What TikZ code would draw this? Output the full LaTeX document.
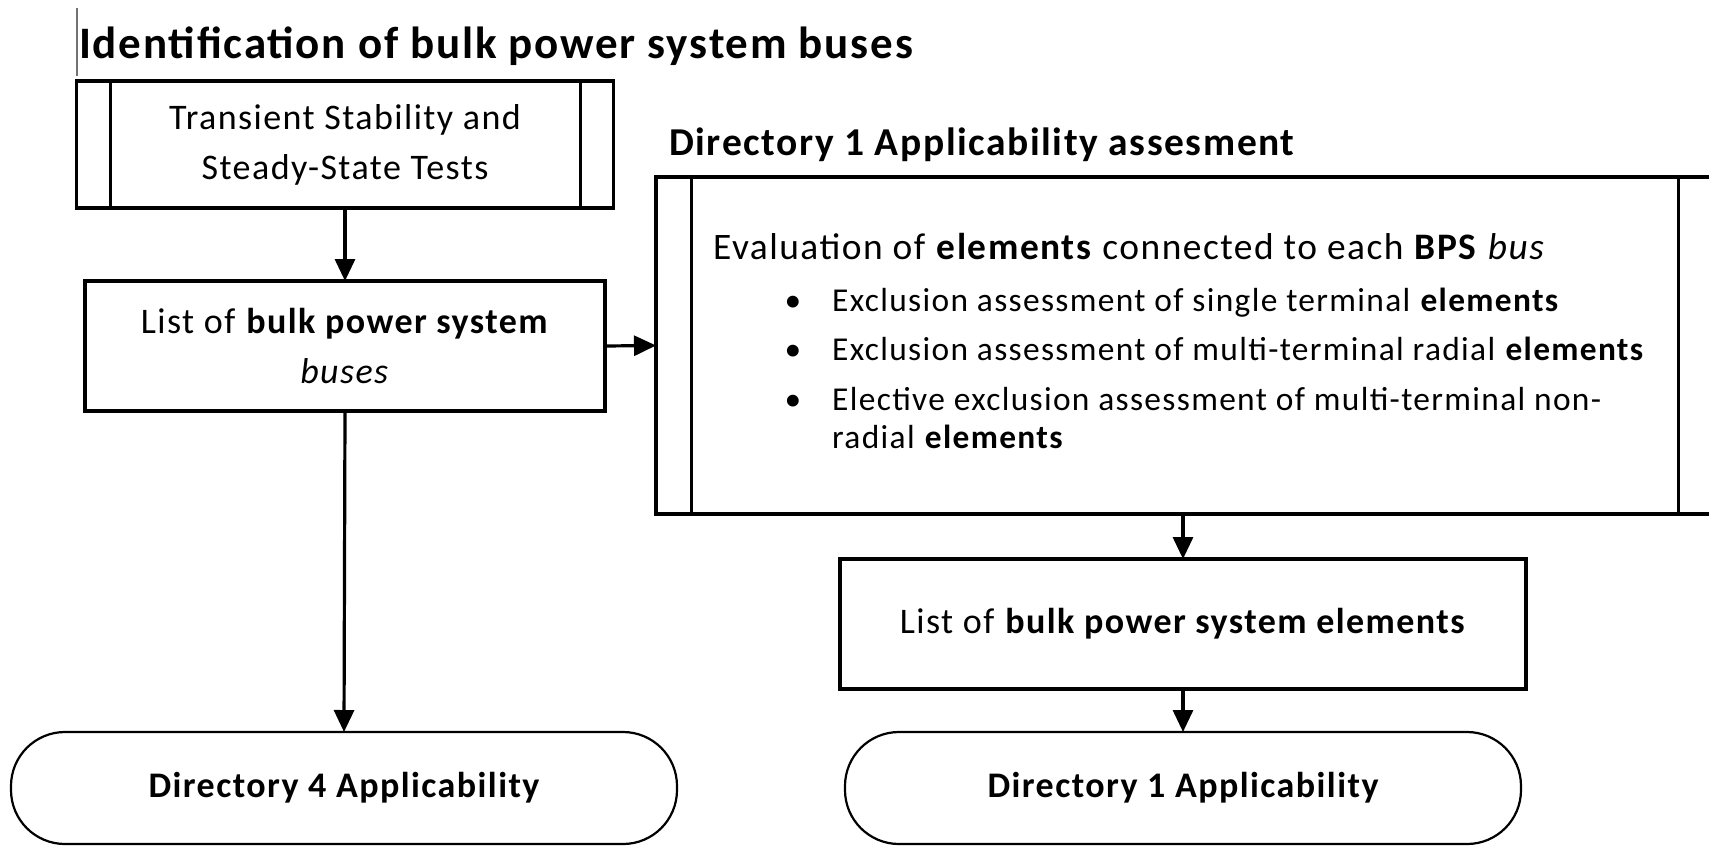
\documentclass[tikz,border=0pt]{standalone}
\usepackage{fontspec}
\setmainfont{Carlito}[LetterSpace=4]
\usetikzlibrary{arrows.meta}
\newcommand\mybodyfont{\fontsize{36pt}{50pt}\selectfont}
\newcommand\mybulfont{\fontsize{33.4pt}{40pt}\selectfont}
\begin{document}
\begin{tikzpicture}[x=1pt,y=-1pt,
  box/.style={draw=black, line width=3.4pt, fill=white, inner sep=0pt, outer sep=0pt, align=center, font=\mybodyfont},
  term/.style={draw=black, line width=2.2pt, rounded corners=54pt, fill=white, inner sep=0pt, outer sep=0pt, align=center, font=\mybodyfont\bfseries},
  arr/.style={line width=3.2pt, -{Triangle[length=22pt,width=20pt]}},
  bar/.style={line width=3pt},
  ttl/.style={anchor=base west, inner sep=0pt, font=\fontsize{#1}{#1}\selectfont\bfseries},
  btxt/.style={anchor=base west, inner sep=0pt, font=\mybulfont},
  bul/.style={anchor=base, inner sep=0pt, font=\mybulfont}]
\useasboundingbox (0,0) rectangle (1709,847);
\fill[white] (0,0) rectangle (1709,847);

% titles
\draw[black!55, line width=1.2pt] (77,8) -- (77,76);
\node[ttl=45pt] (title1) at (79,58) {Identification of bulk power system buses};
\node[ttl=39.5pt] (title2) at (669,155) {Directory 1 Applicability assesment};

% left column
\node[box, minimum width=537pt, minimum height=127pt] (tests) at (345,144.5)
  {Transient Stability and\\Steady-State Tests};
\draw[bar] ([xshift=34pt]tests.north west) -- ([xshift=34pt]tests.south west);
\draw[bar] ([xshift=-33pt]tests.north east) -- ([xshift=-33pt]tests.south east);

\node[box, minimum width=520pt, minimum height=130pt] (buses) at (345,346)
  {List of \textbf{bulk power system}\\\textit{buses}};

\node[term, minimum width=666pt, minimum height=112pt] (dir4) at (344,788)
  {Directory 4 Applicability};

% right column
\node[box, line width=3.2pt, minimum width=1056pt, minimum height=337pt] (eval) at (1184,345.5) {};
\draw[bar] ([xshift=35pt]eval.north west) -- ([xshift=35pt]eval.south west);
\draw[bar] (1678,0 |- eval.north) -- (1678,0 |- eval.south);

\node[anchor=base west, inner sep=0pt, font=\fontsize{37.4pt}{40pt}\selectfont] (evalhead) at (713,259)
  {Evaluation of \textbf{elements} connected to each \textbf{BPS} \textit{bus}};
\node[bul] (b1) at (793,311) {•};
\node[btxt] (t1) at (832,311) {Exclusion assessment of single terminal \textbf{elements}};
\node[bul] (b2) at (793,360) {•};
\node[btxt] (t2) at (832,360) {Exclusion assessment of multi-terminal radial \textbf{elements}};
\node[bul] (b3) at (793,410) {•};
\node[btxt] (t3) at (832,410) {Elective exclusion assessment of multi-terminal non-};
\node[btxt] (t3b) at (832,448) {radial \textbf{elements}};

\node[box, minimum width=686pt, minimum height=130pt] (elems) at (1183,624)
  {List of \textbf{bulk power system elements}};

\node[term, minimum width=676pt, minimum height=112pt] (dir1) at (1183,788)
  {Directory 1 Applicability};

% connectors
\draw[arr] (tests.south) -- (buses.north);
\draw[arr] (buses.east) -- (eval.west);
\draw[arr] (buses.south) -- (dir4.north);
\draw[arr] (eval.south -| elems.north) -- (elems.north);
\draw[arr] (elems.south) -- (dir1.north);
\end{tikzpicture}
\end{document}
